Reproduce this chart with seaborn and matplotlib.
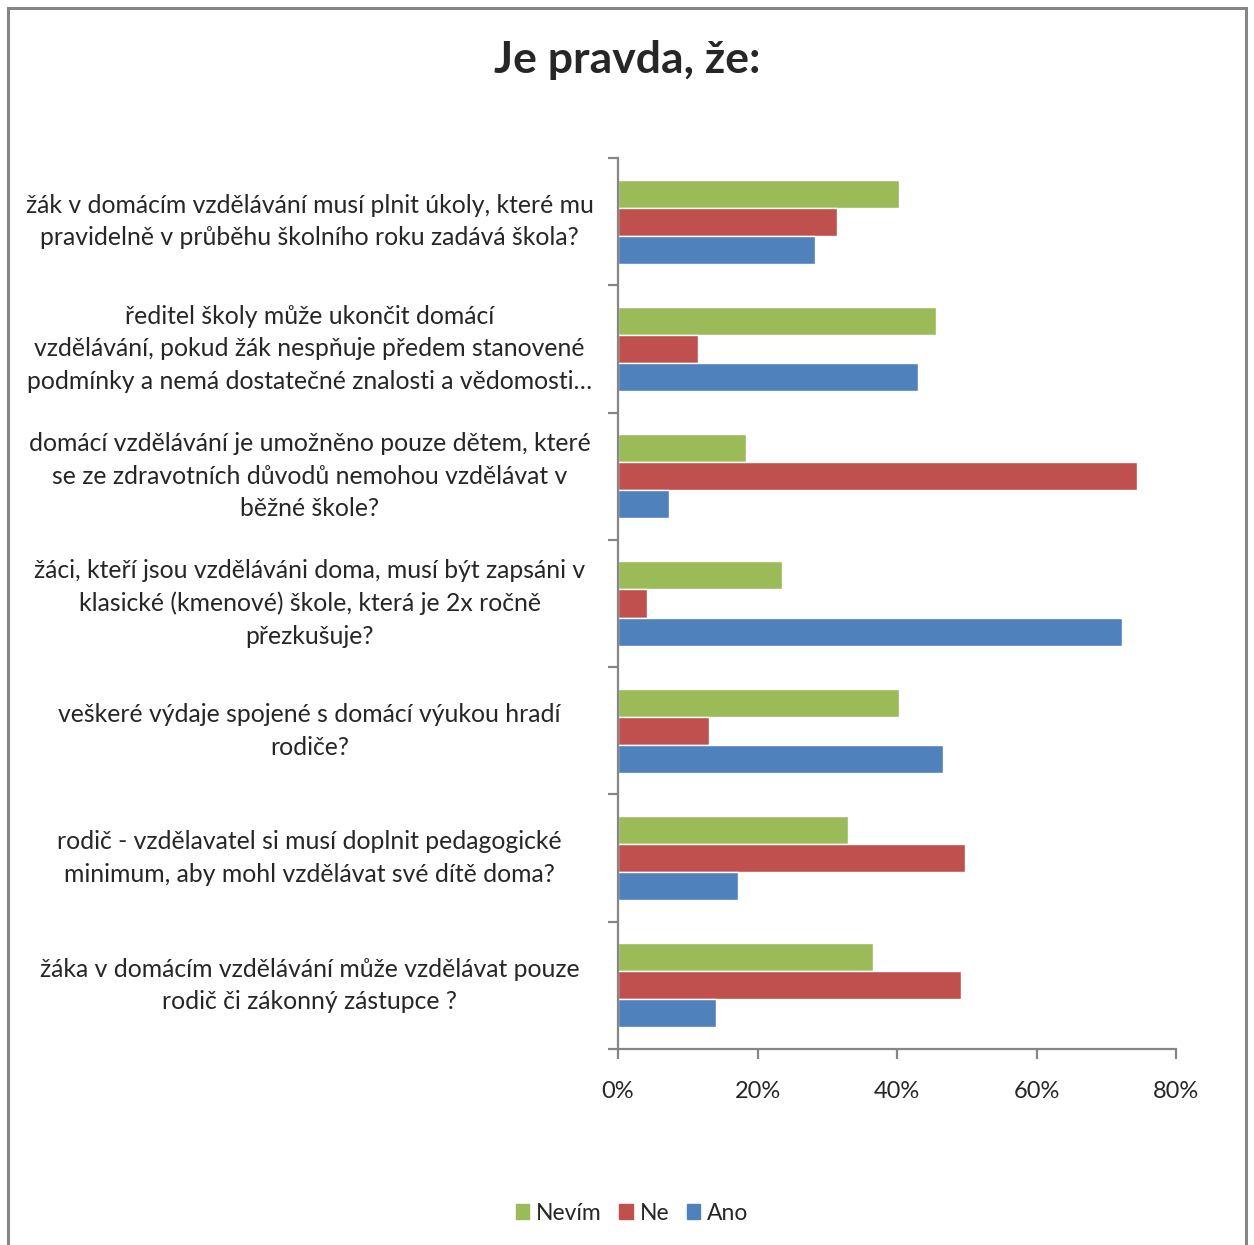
import pandas as pd
import numpy as np
import seaborn as sns
import matplotlib.pyplot as plt
from matplotlib.patches import Rectangle
from matplotlib.ticker import FixedLocator, PercentFormatter

questions = [
    'žák v domácím vzdělávání musí plnit úkoly, které mu\npravidelně v průběhu školního roku zadává škola?',
    'ředitel školy může ukončit domácí\nvzdělávání, pokud žák nespňuje předem stanovené\npodmínky a nemá dostatečné znalosti a vědomosti…',
    'domácí vzdělávání je umožněno pouze dětem, které\nse ze zdravotních důvodů nemohou vzdělávat v\nběžné škole?',
    'žáci, kteří jsou vzděláváni doma, musí být zapsáni v\nklasické (kmenové) škole, která je 2x ročně\npřezkušuje?',
    'veškeré výdaje spojené s domácí výukou hradí\nrodiče?',
    'rodič - vzdělavatel si musí doplnit pedagogické\nminimum, aby mohl vzdělávat své dítě doma?',
    'žáka v domácím vzdělávání může vzdělávat pouze\nrodič či zákonný zástupce ?',
]
nevim = [40.3, 45.6, 18.3, 23.5, 40.3, 33.0, 36.6]
ne = [31.4, 11.5, 74.4, 4.2, 13.0, 49.8, 49.2]
ano = [28.2, 43.0, 7.3, 72.3, 46.6, 17.2, 14.1]
series = ['Nevím', 'Ne', 'Ano']
colors = ['#9BBB59', '#C0504D', '#4F81BD']

df = pd.DataFrame({'otazka': questions, 'Nevím': nevim, 'Ne': ne, 'Ano': ano})
long = df.melt(id_vars='otazka', var_name='odpoved', value_name='pct')

sns.set_style('white')
plt.rcParams['font.family'] = ['Lato', 'DejaVu Sans']

fig = plt.figure(figsize=(12.54, 12.45), dpi=100)
ax = fig.add_axes([618 / 1254, 1 - 1049 / 1245, 558 / 1254, 891 / 1245])

sns.barplot(data=long, y='otazka', x='pct', hue='odpoved', order=questions,
            hue_order=series, palette=colors, orient='h', width=0.66,
            saturation=1, ax=ax, legend=False)

gray = '#868686'
ax.set_xlim(0, 80)
ax.set_ylim(len(questions) - 0.5, -0.5)
ax.set_xlabel('')
ax.set_ylabel('')
ax.xaxis.set_major_locator(FixedLocator([0, 20, 40, 60, 80]))
ax.xaxis.set_major_formatter(PercentFormatter(decimals=0))
ax.yaxis.set_major_locator(FixedLocator(np.arange(-0.5, len(questions), 1)))
ax.yaxis.set_minor_locator(FixedLocator(np.arange(len(questions))))
ax.set_yticklabels([], minor=False)
ax.set_yticklabels(questions, minor=True, fontsize=17.8, linespacing=1.5,
                   ha='center', va='center')
ax.tick_params(axis='y', which='minor', left=True, length=0, pad=222)
ax.tick_params(axis='y', which='major', left=True, length=7, width=1.6,
               color=gray, direction='out')
ax.tick_params(axis='x', bottom=True, length=7, width=1.6, color=gray,
               direction='out', labelsize=17, pad=16)
for s in ['top', 'right']:
    ax.spines[s].set_visible(False)
for s in ['left', 'bottom']:
    ax.spines[s].set_color(gray)
    ax.spines[s].set_linewidth(1.6)

fig.text(0.5, 1 - 60 / 1245, 'Je pravda, že:', ha='center', va='center',
         fontsize=32, fontweight='bold')

handles = [Rectangle((0, 0), 1, 1, color=c) for c in colors]
fig.legend(handles, series, loc='center', bbox_to_anchor=(0.504, 1 - 1213 / 1245),
           ncol=3, frameon=False, fontsize=16.5, handlelength=0.6,
           handleheight=0.6, handletextpad=0.3, columnspacing=0.75)

fig.patches.append(Rectangle((8 / 1254, -0.05), 1238 / 1254, 1.05 - 8 / 1245,
                             transform=fig.transFigure, fill=False,
                             edgecolor=gray, linewidth=2.2))

fig.savefig('out.png', dpi=100)
